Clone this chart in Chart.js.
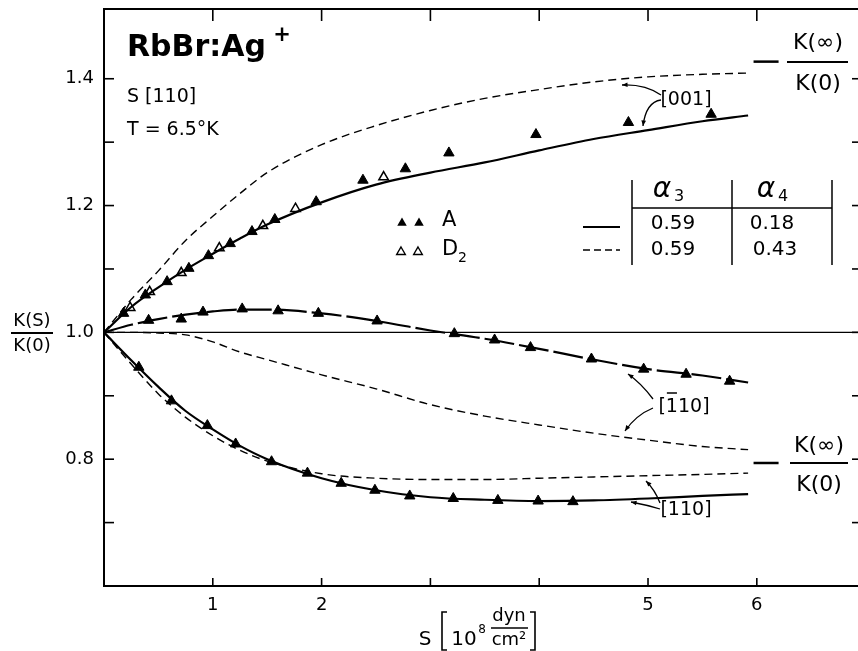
<!DOCTYPE html>
<html lang="en">
<head>
<meta charset="UTF-8">
<title>RbBr:Ag+ K(S)/K(0)</title>
<script src="https://cdn.jsdelivr.net/npm/chart.js"></script>
<style>
  html, body { margin: 0; padding: 0; background: #fff; }
  #wrap { width: 858px; height: 651px; }
</style>
</head>
<body>
<div id="wrap"><canvas id="kChart" width="858" height="651"></canvas></div>
<script>
// stress S in 10^8 dyn/cm^2, grid used by the calculated curves
const sGrid = [0, 0.25, 0.5, 0.75, 1, 1.25, 1.5, 2, 2.5, 3, 3.5, 4, 4.5, 5, 5.5, 5.92];

// calculated K(S)/K(0): solid = alpha4 0.18, dashed = alpha4 0.43
const k001Solid  = [1.0, 1.040, 1.071, 1.099, 1.124, 1.148, 1.170, 1.205, 1.233, 1.252, 1.268, 1.287, 1.305, 1.319, 1.333, 1.342];
const k001Dashed = [1.0, 1.052, 1.097, 1.145, 1.183, 1.219, 1.252, 1.296, 1.326, 1.350, 1.369, 1.383, 1.395, 1.403, 1.407, 1.409];
const k1b10Solid  = [1.0, 1.012, 1.021, 1.028, 1.033, 1.036, 1.036, 1.030, 1.018, 1.003, 0.990, 0.974, 0.957, 0.942, 0.932, 0.921];
const k1b10Dashed = [1.0, 1.0, 0.999, 0.996, 0.985, 0.969, 0.957, 0.933, 0.911, 0.886, 0.868, 0.854, 0.841, 0.830, 0.820, 0.815];
const k110Solid  = [1.0, 0.956, 0.914, 0.876, 0.847, 0.821, 0.800, 0.770, 0.751, 0.740, 0.736, 0.734, 0.735, 0.738, 0.742, 0.745];
const k110Dashed = [1.0, 0.950, 0.903, 0.866, 0.837, 0.814, 0.797, 0.777, 0.770, 0.768, 0.768, 0.770, 0.772, 0.774, 0.776, 0.778];

// measured points, sample A (filled) and D2 (open)
const a001S = [0.18, 0.38, 0.58, 0.78, 0.96, 1.16, 1.36, 1.57, 1.95, 2.38, 2.77, 3.17, 3.97, 4.82, 5.58];
const a001K = [1.030, 1.059, 1.080, 1.101, 1.121, 1.140, 1.159, 1.178, 1.206, 1.240, 1.258, 1.283, 1.312, 1.331, 1.344];
const d001S = [0.24, 0.42, 0.71, 1.06, 1.46, 1.76, 2.57];
const d001K = [1.039, 1.064, 1.094, 1.133, 1.168, 1.195, 1.245];
const a1b10S = [0.41, 0.71, 0.91, 1.27, 1.60, 1.97, 2.51, 3.22, 3.59, 3.92, 4.48, 4.96, 5.35, 5.75];
const a1b10K = [1.019, 1.021, 1.032, 1.037, 1.034, 1.030, 1.018, 0.998, 0.988, 0.976, 0.958, 0.942, 0.934, 0.923];
const a110S = [0.32, 0.62, 0.95, 1.21, 1.54, 1.87, 2.18, 2.49, 2.81, 3.21, 3.62, 3.99, 4.31];
const a110K = [0.945, 0.892, 0.853, 0.824, 0.796, 0.778, 0.762, 0.751, 0.742, 0.738, 0.735, 0.734, 0.733];

// K(inf)/K(0) limits marked at the right
const limitS = [5.97, 6.2];
const limitK = [1.427, 0.794];

const xTickVals = [1, 2, 3, 4, 5, 6];
const xTickLabels = [1, 2, 5, 6];
const yTickVals = [0.7, 0.8, 0.9, 1.0, 1.1, 1.2, 1.3, 1.4];
const yTickLabels = [0.8, 1.0, 1.2, 1.4];

const FONT = 'DejaVu Sans';

function pts(xs, ys) { return xs.map((v, i) => ({ x: v, y: ys[i] })); }

function curve(ys, dash, width) {
  return {
    data: pts(sGrid, ys), borderColor: '#000', borderWidth: width,
    borderDash: dash, pointRadius: 0, cubicInterpolationMode: 'monotone', fill: false
  };
}
function marks(xs, ys, open) {
  return {
    data: pts(xs, ys), showLine: false, pointStyle: 'triangle',
    pointRadius: open ? 5.5 : 6, borderWidth: open ? 1.5 : 1,
    pointBackgroundColor: open ? '#fff' : '#000', pointBorderColor: '#000'
  };
}

const DASH = [8, 5];
const datasets = [
  { data: [{ x: 0, y: 1 }, { x: 6.93, y: 1 }], borderColor: '#000', borderWidth: 1.3, pointRadius: 0 },
  curve(k001Dashed, DASH, 1.4), curve(k1b10Dashed, DASH, 1.4), curve(k110Dashed, DASH, 1.4),
  curve(k001Solid, [], 2.2), curve(k1b10Solid, [30, 5], 2.2), curve(k110Solid, [], 2.2),
  { data: pts(limitS, [limitK[0], limitK[0]]), borderColor: '#000', borderWidth: 2.5, pointRadius: 0 },
  { data: pts(limitS, [limitK[1], limitK[1]]), borderColor: '#000', borderWidth: 2.5, pointRadius: 0 },
  marks(a001S, a001K, false), marks(d001S, d001K, true),
  marks(a1b10S, a1b10K, false), marks(a110S, a110K, false)
];

function line(ctx, x1, y1, x2, y2) { ctx.beginPath(); ctx.moveTo(x1, y1); ctx.lineTo(x2, y2); ctx.stroke(); }
function text(ctx, s, x, y, size, align, style) {
  ctx.font = (style || '') + ' ' + size + 'px "' + FONT + '"';
  ctx.textAlign = align || 'center'; ctx.textBaseline = 'middle';
  ctx.fillText(s, x, y);
}
function frac(ctx, top, bot, cx, yTop, yLine, yBot, x1, x2, size) {
  text(ctx, top, cx, yTop, size);
  text(ctx, bot, cx, yBot, size);
  ctx.lineWidth = 2; line(ctx, x1, yLine, x2, yLine);
}
function tri(ctx, x, y, r, filled) {
  ctx.beginPath();
  ctx.moveTo(x, y - r); ctx.lineTo(x + r * 0.866, y + r * 0.5); ctx.lineTo(x - r * 0.866, y + r * 0.5);
  ctx.closePath();
  if (filled) ctx.fill(); else { ctx.lineWidth = 1.4; ctx.stroke(); }
}
function arrow(ctx, x0, y0, cx, cy, x1, y1) {
  ctx.lineWidth = 1.3;
  ctx.beginPath(); ctx.moveTo(x0, y0); ctx.quadraticCurveTo(cx, cy, x1, y1); ctx.stroke();
  const ang = Math.atan2(y1 - cy, x1 - cx), L = 6;
  ctx.beginPath();
  ctx.moveTo(x1, y1);
  ctx.lineTo(x1 - L * Math.cos(ang - 0.4), y1 - L * Math.sin(ang - 0.4));
  ctx.lineTo(x1 - L * Math.cos(ang + 0.4), y1 - L * Math.sin(ang + 0.4));
  ctx.closePath(); ctx.fill();
}

const annot = {
  id: 'annot',
  afterDraw(chart) {
    const { ctx, chartArea: a, scales: { x, y } } = chart;
    ctx.save();
    ctx.strokeStyle = '#000'; ctx.fillStyle = '#000';
    // top frame and inward ticks
    ctx.lineWidth = 2;
    line(ctx, a.left - 1, a.top, a.right, a.top);
    ctx.lineWidth = 1.6;
    xTickVals.forEach(v => {
      const px = x.getPixelForValue(v);
      line(ctx, px, a.bottom, px, a.bottom - 8);
      line(ctx, px, a.top, px, a.top + 12);
    });
    yTickVals.forEach(v => {
      const py = y.getPixelForValue(v);
      line(ctx, a.left, py, a.left + 10, py);
      line(ctx, a.right - 6, py, a.right, py);
    });

    // title block
    text(ctx, 'RbBr:Ag', 127, 48, 30, 'left', 'bold');
    text(ctx, '+', 282, 36, 21, 'center', 'bold');
    text(ctx, 'S [110]', 127, 97, 19, 'left');
    text(ctx, 'T = 6.5°K', 127, 130, 19, 'left');

    // y axis title
    frac(ctx, 'K(S)', 'K(0)', 32, 321, 333, 346, 11, 53, 18);

    // x axis title
    text(ctx, 'S', 425, 640, 20);
    ctx.lineWidth = 1.6;
    ctx.beginPath(); ctx.moveTo(447, 612); ctx.lineTo(442, 612); ctx.lineTo(442, 650); ctx.lineTo(447, 650); ctx.stroke();
    ctx.beginPath(); ctx.moveTo(530, 612); ctx.lineTo(535, 612); ctx.lineTo(535, 650); ctx.lineTo(530, 650); ctx.stroke();
    text(ctx, '10', 464, 640, 20);
    text(ctx, '8', 482, 630, 12);
    text(ctx, 'dyn', 509, 616, 18);
    ctx.lineWidth = 1.6; line(ctx, 491, 628, 528, 628);
    text(ctx, 'cm²', 509, 640, 18);

    // legend of symbols
    tri(ctx, 402, 223, 5.5, true); tri(ctx, 419, 223, 5.5, true);
    text(ctx, 'A', 442, 221, 21, 'left');
    tri(ctx, 401, 252, 5, false); tri(ctx, 418, 252, 5, false);
    text(ctx, 'D', 442, 250, 21, 'left');
    text(ctx, '2', 458, 258, 14, 'left');

    // parameter table
    ctx.lineWidth = 1.5;
    [632, 732, 832].forEach(px => line(ctx, px, 180, px, 265));
    line(ctx, 632, 208, 832, 208);
    text(ctx, 'α', 662, 190, 28, 'center', 'italic');
    text(ctx, '3', 679, 197, 16, 'center');
    text(ctx, 'α', 766, 190, 28, 'center', 'italic');
    text(ctx, '4', 783, 197, 16, 'center');
    text(ctx, '0.59', 673, 224, 20);
    text(ctx, '0.18', 772, 224, 20);
    text(ctx, '0.59', 673, 250, 20);
    text(ctx, '0.43', 775, 250, 20);
    ctx.lineWidth = 2; line(ctx, 583, 227, 620, 227);
    ctx.lineWidth = 1.4; ctx.setLineDash([7, 4]); line(ctx, 583, 250, 620, 250); ctx.setLineDash([]);

    // limit labels
    frac(ctx, 'K(∞)', 'K(0)', 818, 43, 62, 84, 787, 848, 22);
    frac(ctx, 'K(∞)', 'K(0)', 819, 446, 463, 485, 790, 848, 22);

    // direction labels and arrows
    text(ctx, '[001]', 686, 100, 19);
    arrow(ctx, 661, 95, 645, 84, 622, 85);
    arrow(ctx, 661, 100, 646, 102, 643, 126);

    text(ctx, '[110]', 684, 407, 19);
    ctx.font = '19px "' + FONT + '"';
    const w = ctx.measureText('[110]').width, wb = ctx.measureText('[').width, w1 = ctx.measureText('1').width;
    const bx = 684 - w / 2 + wb;
    ctx.lineWidth = 1.5; line(ctx, bx + 1, 393, bx + w1 - 1, 393);
    arrow(ctx, 653, 399, 641, 383, 628, 374);
    arrow(ctx, 653, 408, 636, 415, 625, 431);

    text(ctx, '[110]', 686, 510, 19);
    arrow(ctx, 660, 509, 647, 505, 631, 502);
    arrow(ctx, 660, 503, 655, 490, 646, 481);
    ctx.restore();
  }
};

function noPad(s) { s.paddingTop = 0; s.paddingBottom = 0; s.paddingLeft = 0; s.paddingRight = 0; }

new Chart(document.getElementById('kChart'), {
  type: 'line',
  data: { datasets },
  options: {
    responsive: false,
    animation: false,
    layout: { autoPadding: false, padding: { left: 0, right: 0, top: 9, bottom: 0 } },
    plugins: { legend: { display: false }, tooltip: { enabled: false } },
    scales: {
      x: {
        type: 'linear', min: 0, max: 6.93,
        grid: { display: false, drawTicks: false },
        border: { display: true, color: '#000', width: 2 },
        ticks: {
          stepSize: 1, includeBounds: false, autoSkip: false, maxRotation: 0, padding: 9,
          color: '#000', font: { family: FONT, size: 18 },
          callback: v => xTickLabels.includes(v) ? String(v) : null
        },
        afterFit: s => { s.height = 65; noPad(s); }
      },
      y: {
        type: 'linear', min: 0.6, max: 1.51,
        grid: { display: false, drawTicks: false },
        border: { display: true, color: '#000', width: 2 },
        ticks: {
          stepSize: 0.1, includeBounds: false, autoSkip: false, padding: 10,
          color: '#000', font: { family: FONT, size: 18 },
          callback: v => {
            const t = Math.round(v * 10) / 10;
            return yTickLabels.includes(t) ? t.toFixed(1) : null;
          }
        },
        afterFit: s => { s.width = 104; noPad(s); }
      }
    }
  },
  plugins: [annot]
});
</script>
</body>
</html>
